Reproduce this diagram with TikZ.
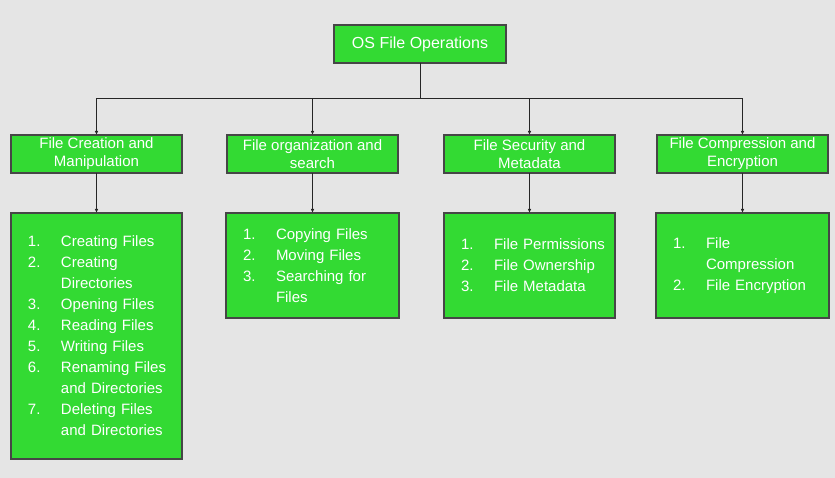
\documentclass[tikz,border=0pt]{standalone}
\usepackage{fontspec}
\setmainfont{Liberation Sans}
\usepackage{xcolor}
\usepackage{tikz}
\usetikzlibrary{arrows.meta,positioning,calc}

\definecolor{boxgreen}{RGB}{51,218,51}
\definecolor{boxline}{RGB}{70,70,70}
\definecolor{bggray}{RGB}{229,229,229}

\newcommand{\itm}[1]{\hspace*{12pt}\makebox[33pt][l]{#1}}
\newcommand{\cont}{\hspace*{45pt}}

\begin{document}
\begin{tikzpicture}[x=1pt,y=-1pt,
  box/.style={draw=boxline,line width=1.1pt,fill=boxgreen,text=white,inner sep=0pt,outer sep=0pt},
  topbox/.style={box,minimum width=172pt,minimum height=38pt,font=\fontsize{16}{19}\selectfont},
  headbox/.style={box,minimum width=171pt,minimum height=38pt,align=center,font=\fontsize{15}{18}\selectfont},
  listbox/.style={box,inner xsep=5pt,align=left,font=\fontsize{15}{21}\selectfont},
  link/.style={draw=black!85,line width=0.9pt,-{Latex[length=4pt,width=3.5pt]}}]

\useasboundingbox (0,0) rectangle (835,478);
\fill[bggray] (0,0) rectangle (835,478);

%root
\node[topbox] (ops) at (420,44) {OS File Operations};

%level 2
\node[headbox] (creat) at (96.5,154)  {File Creation and\\Manipulation};
\node[headbox] (org)   at (312.5,154) {File organization and\\search};
\node[headbox] (sec)   at (529.5,154) {File Security and\\Metadata};
\node[headbox] (comp)  at (742.5,154) {File Compression and\\Encryption};

%lists
\node[listbox,text width=161pt,minimum height=246pt] (creatlist) at (96.5,336)
  {\itm{1.}Creating Files\\
   \itm{2.}Creating\\
   \cont Directories\\
   \itm{3.}Opening Files\\
   \itm{4.}Reading Files\\
   \itm{5.}Writing Files\\
   \itm{6.}Renaming Files\\
   \cont and Directories\\
   \itm{7.}Deleting Files\\
   \cont and Directories};
\node[listbox,text width=163pt,minimum height=105pt] (orglist) at (312.5,265.5)
  {\itm{1.}Copying Files\\
   \itm{2.}Moving Files\\
   \itm{3.}Searching for\\
   \cont Files};
\node[listbox,text width=161pt,minimum height=105pt] (seclist) at (529.5,265.5)
  {\itm{1.}File Permissions\\
   \itm{2.}File Ownership\\
   \itm{3.}File Metadata};
\node[listbox,text width=163pt,minimum height=105pt] (complist) at (742.5,265.5)
  {\itm{1.}File\\
   \cont Compression\\
   \itm{2.}File Encryption};

%connectors
\foreach \h in {creat,org,sec,comp}
  \draw[link] (ops.south) -- ++(0,35) -| (\h.north);
\foreach \h in {creat,org,sec,comp}
  \draw[link] (\h.south) -- (\h list.north);
\end{tikzpicture}
\end{document}
